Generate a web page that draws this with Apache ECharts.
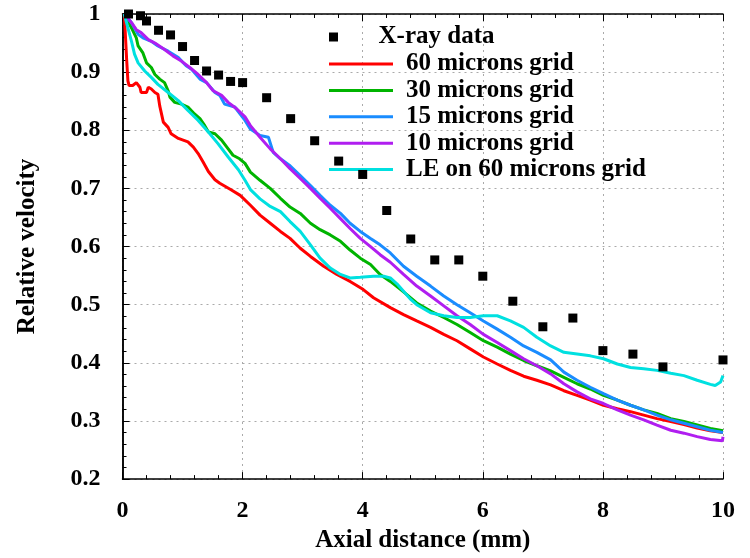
<!DOCTYPE html>
<html>
<head>
<meta charset="utf-8">
<script src="https://cdn.jsdelivr.net/npm/echarts@6/dist/echarts.min.js"></script>
<style>
  html, body { margin: 0; padding: 0; background: #fff; }
  #chart { width: 750px; height: 558px; }
</style>
</head>
<body>
<div id="chart"></div>
<script>
// X-ray measurements (squares)
var xrayX = [0.1, 0.3, 0.4, 0.6, 0.8, 1.0, 1.2, 1.4, 1.6, 1.8, 2.0, 2.4, 2.8, 3.2, 3.6, 4.0, 4.4, 4.8, 5.2, 5.6, 6.0, 6.5, 7.0, 7.5, 8.0, 8.5, 9.0, 10.0];
var xrayY = [1.0, 0.997, 0.988, 0.972, 0.964, 0.944, 0.92, 0.902, 0.895, 0.884, 0.882, 0.856, 0.82, 0.782, 0.747, 0.724, 0.662, 0.613, 0.577, 0.577, 0.549, 0.506, 0.462, 0.477, 0.421, 0.415, 0.393, 0.405];

// simulated curves, [x (mm), relative velocity]
var grid60 = [[0.03,1.0],[0.05,0.96],[0.07,0.92],[0.09,0.885],[0.11,0.877],[0.17,0.877],[0.23,0.882],[0.29,0.874],[0.31,0.865],[0.4,0.865],[0.43,0.874],[0.48,0.871],[0.54,0.865],[0.59,0.862],[0.62,0.842],[0.68,0.814],[0.76,0.805],[0.81,0.794],[0.93,0.786],[1.01,0.783],[1.09,0.78],[1.18,0.771],[1.26,0.76],[1.34,0.746],[1.43,0.729],[1.54,0.715],[1.62,0.709],[1.8,0.698],[1.96,0.688],[2.13,0.671],[2.29,0.654],[2.46,0.64],[2.63,0.626],[2.79,0.614],[2.96,0.597],[3.13,0.583],[3.35,0.566],[3.57,0.552],[3.79,0.54],[4.01,0.526],[4.18,0.512],[4.46,0.495],[4.68,0.483],[4.9,0.472],[5.13,0.461],[5.35,0.449],[5.57,0.438],[5.79,0.424],[6.01,0.41],[6.24,0.398],[6.46,0.387],[6.68,0.377],[6.9,0.37],[7.13,0.362],[7.35,0.352],[7.57,0.344],[7.79,0.336],[8.01,0.327],[8.24,0.321],[8.46,0.316],[8.68,0.31],[8.9,0.304],[9.13,0.299],[9.35,0.294],[9.57,0.288],[9.79,0.283],[10.0,0.28]];
var grid30 = [[0.03,1.0],[0.15,0.976],[0.23,0.959],[0.26,0.945],[0.34,0.933],[0.4,0.916],[0.48,0.908],[0.54,0.896],[0.62,0.888],[0.7,0.882],[0.76,0.868],[0.79,0.857],[0.87,0.848],[0.98,0.845],[1.09,0.84],[1.2,0.828],[1.29,0.82],[1.37,0.808],[1.43,0.797],[1.54,0.794],[1.65,0.783],[1.76,0.768],[1.84,0.757],[1.95,0.751],[2.04,0.743],[2.13,0.728],[2.29,0.714],[2.46,0.7],[2.63,0.683],[2.79,0.668],[2.96,0.657],[3.13,0.64],[3.29,0.629],[3.46,0.62],[3.63,0.609],[3.79,0.594],[3.96,0.58],[4.13,0.569],[4.29,0.552],[4.46,0.54],[4.68,0.522],[4.9,0.503],[5.13,0.489],[5.35,0.478],[5.57,0.466],[5.79,0.452],[6.01,0.438],[6.24,0.427],[6.46,0.415],[6.68,0.404],[6.9,0.395],[7.13,0.386],[7.35,0.375],[7.57,0.364],[7.79,0.355],[8.01,0.344],[8.24,0.336],[8.46,0.327],[8.68,0.319],[8.9,0.313],[9.13,0.304],[9.35,0.299],[9.57,0.293],[9.79,0.287],[10.0,0.283]];
var grid15 = [[0.03,1.0],[0.15,0.985],[0.26,0.965],[0.34,0.959],[0.48,0.953],[0.59,0.945],[0.76,0.936],[0.93,0.925],[1.06,0.911],[1.15,0.905],[1.29,0.888],[1.4,0.882],[1.54,0.865],[1.62,0.86],[1.7,0.845],[1.87,0.84],[2.04,0.817],[2.13,0.802],[2.29,0.791],[2.43,0.788],[2.51,0.762],[2.63,0.751],[2.79,0.739],[2.96,0.722],[3.13,0.705],[3.29,0.688],[3.46,0.671],[3.63,0.657],[3.79,0.64],[3.96,0.626],[4.13,0.614],[4.29,0.603],[4.46,0.589],[4.68,0.566],[4.9,0.549],[5.13,0.532],[5.35,0.515],[5.57,0.5],[5.79,0.486],[6.01,0.472],[6.24,0.458],[6.46,0.444],[6.68,0.429],[6.9,0.418],[7.13,0.405],[7.35,0.384],[7.57,0.37],[7.79,0.358],[8.01,0.347],[8.24,0.336],[8.46,0.327],[8.68,0.319],[8.9,0.31],[9.13,0.302],[9.35,0.296],[9.57,0.29],[9.79,0.284],[10.0,0.28]];
var grid10 = [[0.03,1.0],[0.15,0.985],[0.23,0.973],[0.31,0.968],[0.43,0.956],[0.54,0.95],[0.7,0.939],[0.84,0.928],[0.98,0.919],[1.12,0.908],[1.26,0.896],[1.4,0.882],[1.51,0.868],[1.65,0.86],[1.76,0.848],[1.9,0.837],[2.04,0.823],[2.13,0.808],[2.29,0.788],[2.46,0.768],[2.63,0.751],[2.79,0.734],[2.96,0.717],[3.13,0.7],[3.29,0.683],[3.46,0.666],[3.63,0.648],[3.79,0.631],[3.96,0.614],[4.13,0.6],[4.29,0.586],[4.46,0.573],[4.68,0.552],[4.9,0.532],[5.13,0.515],[5.35,0.498],[5.57,0.481],[5.79,0.466],[6.01,0.449],[6.24,0.435],[6.46,0.421],[6.68,0.407],[6.9,0.395],[7.13,0.381],[7.35,0.364],[7.57,0.35],[7.79,0.338],[8.01,0.33],[8.24,0.319],[8.46,0.31],[8.68,0.302],[8.9,0.293],[9.13,0.284],[9.35,0.279],[9.57,0.273],[9.79,0.268],[9.99,0.266],[10.0,0.273]];
var le60 = [[0.03,1.0],[0.09,0.976],[0.15,0.953],[0.2,0.931],[0.26,0.916],[0.37,0.902],[0.48,0.891],[0.59,0.879],[0.76,0.865],[0.93,0.851],[1.09,0.834],[1.26,0.817],[1.43,0.797],[1.59,0.777],[1.76,0.754],[1.93,0.732],[2.04,0.714],[2.13,0.698],[2.29,0.682],[2.46,0.669],[2.63,0.66],[2.79,0.643],[2.96,0.626],[3.13,0.603],[3.29,0.58],[3.46,0.563],[3.63,0.552],[3.79,0.546],[3.96,0.547],[4.18,0.549],[4.35,0.549],[4.46,0.546],[4.57,0.536],[4.68,0.523],[4.79,0.51],[4.9,0.5],[5.13,0.486],[5.35,0.481],[5.57,0.478],[5.79,0.478],[6.01,0.481],[6.24,0.481],[6.46,0.472],[6.68,0.461],[6.9,0.444],[7.13,0.429],[7.35,0.418],[7.57,0.415],[7.79,0.412],[8.01,0.407],[8.24,0.398],[8.46,0.392],[8.68,0.39],[8.9,0.387],[9.13,0.382],[9.35,0.378],[9.57,0.37],[9.79,0.363],[9.87,0.361],[9.96,0.367],[10.0,0.378]];

var seriesNames = ['X-ray data', '60 microns grid', '30 microns grid', '15 microns grid', '10 microns grid', 'LE on 60 microns grid'];
var lineColors = ['#ff0000', '#00b400', '#1a8cff', '#b01ef0', '#00e0e0'];

var fontFamily = '"Liberation Serif", "Times New Roman", serif';
var lineIcon = 'path://M0,0h64v3h-64z';

function lineSeries(name, data, color) {
  return {
    name: name,
    type: 'line',
    data: data,
    symbol: 'none',
    color: color,
    lineStyle: { width: 3, color: color }
  };
}

var legendText = { fontFamily: fontFamily, fontWeight: 'bold', fontSize: 25, lineHeight: 26, color: '#000', padding: [0, 0, 0, 8] };

var chart = echarts.init(document.getElementById('chart'));
var option = {
  backgroundColor: '#fff',
  animation: false,
  textStyle: { fontFamily: fontFamily },
  grid: { left: 122.5, right: 27, top: 14, bottom: 75 },
  legend: [{
    data: [{ name: seriesNames[0], icon: 'path://M0,0h1v1h-1z' }],
    orient: 'vertical',
    left: 329, top: 24, padding: 0,
    itemWidth: 64, itemHeight: 9,
    textStyle: legendText
  }, {
    data: seriesNames.slice(1).map(function (n) { return { name: n, icon: lineIcon }; }),
    orient: 'vertical',
    left: 329, top: 51, padding: 0, itemGap: 0.4,
    itemWidth: 64, itemHeight: 14,
    textStyle: legendText
  }],
  xAxis: [{
    type: 'value', min: 0, max: 10, interval: 2,
    name: 'Axial distance (mm)', nameLocation: 'middle', nameGap: 48,
    nameTextStyle: { fontFamily: fontFamily, fontWeight: 'bold', fontSize: 25, color: '#000' },
    axisLine: { lineStyle: { color: '#000', width: 1.5 } },
    axisTick: { inside: true, length: 7, lineStyle: { color: '#000' } },
    minorTick: { show: true, splitNumber: 5, length: 4, lineStyle: { color: '#000' } },
    axisLabel: { fontFamily: fontFamily, fontWeight: 'bold', fontSize: 24, color: '#000', margin: 20 },
    splitLine: { show: true, lineStyle: { color: '#aaa', type: [2, 4], width: 1 } }
  }, {
    type: 'value', min: 0, max: 10, interval: 2, position: 'top',
    axisLine: { show: true, lineStyle: { color: '#000', width: 1.5 } },
    axisTick: { inside: true, length: 7, lineStyle: { color: '#000' } },
    minorTick: { show: true, splitNumber: 5, length: 4, lineStyle: { color: '#000' } },
    axisLabel: { show: false },
    splitLine: { show: false }
  }],
  yAxis: [{
    type: 'value', min: 0.2, max: 1, interval: 0.1,
    name: 'Relative velocity', nameLocation: 'middle', nameGap: 82,
    nameTextStyle: { fontFamily: fontFamily, fontWeight: 'bold', fontSize: 25, color: '#000' },
    axisLine: { show: true, lineStyle: { color: '#000', width: 1.5 } },
    axisTick: { inside: true, length: 7, lineStyle: { color: '#000' } },
    minorTick: { show: true, splitNumber: 5, length: 4, lineStyle: { color: '#000' } },
    axisLabel: { fontFamily: fontFamily, fontWeight: 'bold', fontSize: 24, color: '#000', margin: 22 },
    splitLine: { show: true, lineStyle: { color: '#aaa', type: [2, 4], width: 1 } }
  }, {
    type: 'value', min: 0.2, max: 1, interval: 0.1, position: 'right',
    axisLine: { show: true, lineStyle: { color: '#000', width: 1.5 } },
    axisTick: { show: false },
    axisLabel: { show: false },
    splitLine: { show: false }
  }],
  series: [{
    name: seriesNames[0],
    type: 'scatter',
    data: xrayX.map(function (x, i) { return [x, xrayY[i]]; }),
    symbol: 'rect',
    symbolSize: 9,
    itemStyle: { color: '#000', opacity: 1 },
    z: 5
  },
    lineSeries(seriesNames[1], grid60, lineColors[0]),
    lineSeries(seriesNames[2], grid30, lineColors[1]),
    lineSeries(seriesNames[3], grid15, lineColors[2]),
    lineSeries(seriesNames[4], grid10, lineColors[3]),
    lineSeries(seriesNames[5], le60, lineColors[4])
  ]
};
chart.setOption(option);
</script>
</body>
</html>
